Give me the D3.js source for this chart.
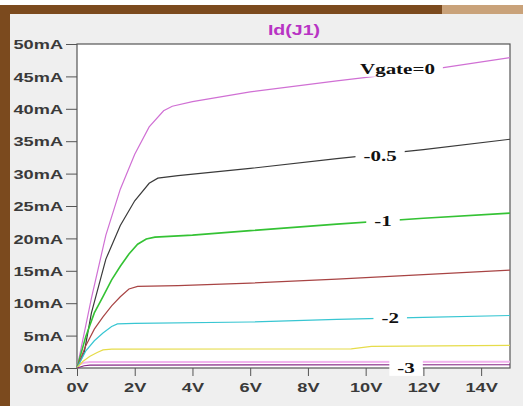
<!DOCTYPE html>
<html lang="en">

<head>
    <meta charset="utf-8">
    <title>Id(J1)</title>
    <script type="text/javascript" src="https://d3js.org/d3.v7.min.js"></script>
    <style type="text/css">
        body { margin: 0; background: #efefef; }
        svg { display: block; }
    </style>
</head>

<body>
    <svg width="523" height="406"></svg>
    <script type="text/javascript">
        //Tick values
        const xTicks = [0, 2, 4, 6, 8, 10, 12, 14]
        const yTicks = [0, 5, 10, 15, 20, 25, 30, 35, 40, 45, 50]

        //Gate voltages (one trace each)
        const gates = ['0', '-0.5', '-1', '-1.5', '-2', '-2.5', '-3']

        //Curves: [Vds (V), Id (mA)]
        const vg0 = [[0, 0], [0.5, 10.8], [1, 20.5], [1.5, 27.6], [2, 33], [2.5, 37.2], [3, 39.7], [3.3, 40.4],
            [4, 41.1], [6, 42.6], [9, 44.3], [12, 45.9], [15, 47.9]]
        const vgm05 = [[0, 0], [0.25, 2.4], [0.5, 8.5], [1, 16.8], [1.5, 22], [2, 25.8], [2.5, 28.5], [2.8, 29.3],
            [3.5, 29.7], [6, 30.8], [9, 32.3], [12, 33.7], [15, 35.3]]
        const vgm1 = [[0, 0], [0.3, 4.8], [0.6, 8.5], [0.9, 11], [1.2, 13.6], [1.5, 15.7], [1.8, 17.6], [2.1, 19.1],
            [2.4, 19.9], [2.7, 20.2], [4, 20.5], [6, 21.2], [9, 22.2], [12, 23.1], [15, 23.9]]
        const vgm15 = [[0, 0], [0.3, 3.4], [0.6, 6], [0.9, 7.9], [1.2, 9.6], [1.5, 11], [1.8, 12.2], [2.1, 12.6],
            [3.5, 12.7], [6, 13.1], [9, 13.7], [12, 14.4], [15, 15.1]]
        const vgm2 = [[0, 0], [0.3, 2.6], [0.6, 4.2], [0.9, 5.4], [1.2, 6.4], [1.4, 6.8], [2, 6.9], [6, 7.1],
            [9, 7.5], [12, 7.8], [15, 8.1]]
        const vgm25 = [[0, 0], [0.2, 1], [0.45, 1.8], [0.7, 2.4], [0.9, 2.8], [1.2, 2.9], [9.5, 2.95], [10.2, 3.35],
            [15, 3.5]]
        const vgm3 = [[0, 0], [0.25, 0.35], [0.45, 0.45], [15, 0.5]]

        const curves = [vg0, vgm05, vgm1, vgm15, vgm2, vgm25, vgm3]
        const colors = ['#d070d4', '#3a3a3a', '#34c234', '#a84444', '#38c6d2', '#e6dc4a', '#862886']

        //Which traces carry a label, and the Vds where it sits
        const labelNames = ['Vgate=0', '-0.5', '-1', '-2', '-3']
        const labelIdx = [0, 1, 2, 4, 6]
        const labelAt = [11.1, 10.5, 10.6, 10.85, 11.4]

        const svg = d3.select("svg");
        const w = 523;
        const h = 406;
        const plotL = 77, plotR = 510, plotT = 44, plotB = 368;
        const sx = 1.4; //screenshot is stretched sideways
        const labelShift = [-5, 2, 0, 0, 3];

        const xScale = d3.scaleLinear().domain([0, 15]).range([plotL, plotR]);
        const yScale = d3.scaleLinear().domain([0, 50]).range([plotB, plotT]);

        //Window frame
        svg.append('rect').attr('width', w).attr('height', h).attr('fill', '#efefef');
        svg.append('rect').attr('x', 0).attr('y', 0).attr('width', w).attr('height', 5).attr('fill', '#ffffff');
        svg.append('rect').attr('x', 0).attr('y', 5).attr('width', 442).attr('height', 9).attr('fill', '#7b4a1e');
        svg.append('rect').attr('x', 442).attr('y', 5).attr('width', 81).attr('height', 9).attr('fill', '#c9a27a');
        svg.append('rect').attr('x', 0).attr('y', 5).attr('width', 10).attr('height', h - 5).attr('fill', '#7b4a1e');

        //Plot area
        svg.append('rect')
            .attr('x', plotL).attr('y', plotT)
            .attr('width', plotR - plotL).attr('height', plotB - plotT)
            .attr('fill', '#ffffff')
            .attr('stroke', '#555')
            .attr('stroke-width', 1.2);

        //Title
        svg.append('text')
            .attr('transform', 'translate(294,35) scale(' + sx + ',1)')
            .attr('text-anchor', 'middle')
            .style('font-family', 'Liberation Sans, Arial, sans-serif')
            .style('font-weight', 'bold')
            .style('font-size', '14px')
            .attr('fill', '#b834c4')
            .text('Id(J1)');

        //Axes
        const leftAxis = d3.axisLeft(yScale)
            .tickValues(yTicks)
            .tickFormat(d => d + 'mA')
            .tickSize(11)
            .tickPadding(3);

        svg.append('g')
            .attr('transform', 'translate(' + plotL + ',0)')
            .call(leftAxis)
            .call(g => g.select('.domain').remove())
            .call(g => g.selectAll('.tick line').attr('stroke', '#555'))
            .call(g => g.selectAll('.tick text')
                .attr('x', -14 / sx)
                .attr('dy', '0.36em')
                .attr('transform', 'scale(' + sx + ',1)')
                .attr('fill', '#3a3a3a')
                .style('font-family', 'Liberation Sans, Arial, sans-serif')
                .style('font-weight', 'bold')
                .style('font-size', '13px'));

        const bottomAxis = d3.axisBottom(xScale)
            .tickValues(xTicks)
            .tickFormat(d => d + 'V')
            .tickSize(8)
            .tickPadding(7);

        svg.append('g')
            .attr('transform', 'translate(0,' + plotB + ')')
            .call(bottomAxis)
            .call(g => g.select('.domain').remove())
            .call(g => g.selectAll('.tick line').attr('stroke', '#555'))
            .call(g => g.selectAll('.tick text')
                .attr('transform', 'scale(' + sx + ',1)')
                .attr('fill', '#3a3a3a')
                .style('font-family', 'Liberation Sans, Arial, sans-serif')
                .style('font-weight', 'bold')
                .style('font-size', '13px'));

        //Traces
        const line = d3.line()
            .x(d => xScale(d[0]))
            .y(d => yScale(d[1]));

        const traces = svg.append('g');

        //pale halo on the lowest trace
        traces.append('path')
            .attr('d', line(vgm3))
            .attr('transform', 'translate(0,-3)')
            .attr('fill', 'none')
            .attr('stroke', '#f2b4ee')
            .attr('stroke-width', 2);

        traces.selectAll('path.trace')
            .data(curves)
            .enter()
            .append('path')
            .attr('class', 'trace')
            .attr('d', line)
            .attr('fill', 'none')
            .attr('stroke', (d, i) => colors[i])
            .attr('stroke-width', (d, i) => i === 2 ? 1.6 : 1.2);

        //Trace labels with white backing that breaks the line
        const interp = (pts, v) => {
            for (let k = 1; k < pts.length; k++) {
                if (v <= pts[k][0]) {
                    const t = (v - pts[k - 1][0]) / (pts[k][0] - pts[k - 1][0]);
                    return pts[k - 1][1] + t * (pts[k][1] - pts[k - 1][1]);
                }
            }
            return pts[pts.length - 1][1];
        }

        labelNames.forEach((name, j) => {
            const pts = curves[labelIdx[j]];
            const cx = xScale(labelAt[j]);
            const cy = yScale(interp(pts, labelAt[j])) + labelShift[j];
            const g = svg.append('g').attr('transform', 'translate(' + cx + ',' + cy + ')');
            const t = g.append('text')
                .attr('transform', 'scale(' + sx + ',1)')
                .attr('text-anchor', 'middle')
                .attr('dy', '0.35em')
                .style('font-family', 'Liberation Serif, Times New Roman, serif')
                .style('font-weight', 'bold')
                .style('font-size', '15px')
                .attr('fill', '#111')
                .text(name);
            const bw = t.node().getComputedTextLength() * sx + 16;
            g.insert('rect', 'text')
                .attr('x', -bw / 2).attr('y', -8)
                .attr('width', bw).attr('height', 16)
                .attr('fill', '#ffffff');
        });
    </script>
</body>

</html>
